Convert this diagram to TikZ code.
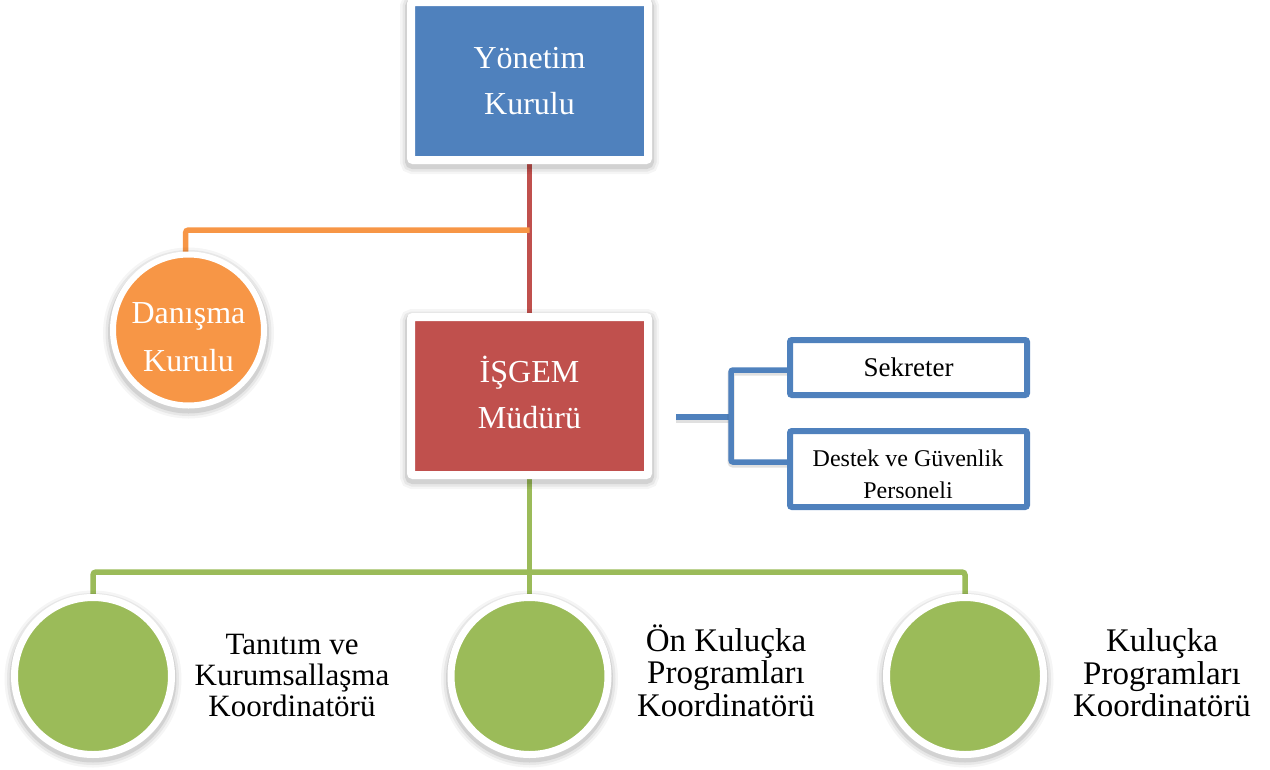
\documentclass[tikz,border=0pt]{standalone}
\usepackage{fontspec}
\setmainfont{Liberation Serif}
\usetikzlibrary{calc}
\pgfdeclarelayer{bg}
\pgfsetlayers{bg,main}
\definecolor{cblue}{HTML}{4F81BD}
\definecolor{cred}{HTML}{C0504D}
\definecolor{corange}{HTML}{F79646}
\definecolor{cgreen}{HTML}{9BBB59}
\begin{document}
\begin{tikzpicture}[x=1pt,y=-1pt,
  shdbox/.style={
    preaction={draw=black,draw opacity=.04,line width=22pt,transform canvas={yshift=-3pt}},
    preaction={draw=black,draw opacity=.06,line width=17pt,transform canvas={yshift=-3pt}},
    preaction={draw=black,draw opacity=.09,line width=12pt,transform canvas={yshift=-3pt}}},
  shdcirc/.style={
    preaction={draw=black,draw opacity=.04,line width=20pt,transform canvas={yshift=-3pt}},
    preaction={draw=black,draw opacity=.06,line width=15pt,transform canvas={yshift=-3pt}},
    preaction={draw=black,draw opacity=.09,line width=10pt,transform canvas={yshift=-3pt}}},
  framebox/.style={shdbox, rectangle, draw=white, line width=8pt, rounded corners=2pt,
                   minimum width=237pt, minimum height=158pt, inner sep=0pt, outer sep=0pt,
                   text=white, align=center, font=\fontsize{32}{46}\selectfont},
  ring/.style={shdcirc, circle, draw=white, inner sep=0pt, outer sep=0pt},
  side/.style={text=black, align=center, inner sep=0pt},
  inner/.style={text=white, align=center, inner sep=0pt},
  smallbox/.style={rectangle, draw=cblue, line width=6pt, rounded corners=2pt,
                   minimum width=237pt, inner sep=0pt, outer sep=0pt},
  conn/.style={line width=5.5pt},
  bconn/.style={conn, cblue, preaction={draw=black,draw opacity=.12,line width=7pt,transform canvas={yshift=-2pt}}},
]
\useasboundingbox (0,0) rectangle (1270,769);

% main boxes
\node[framebox, fill=cblue] (yk) at (529.5,81) {Yönetim\\Kurulu};
\node[framebox, fill=cred] (isgem) at (529.5,396) {};
\node[inner, font=\fontsize{32}{46}\selectfont] (isgemt) at (529.5,392) {İŞGEM\\Müdürü};

% advisory circle
\node[ring, fill=corange, line width=6pt, minimum size=151pt] (dk) at (188.5,330) {};
\node[inner, font=\fontsize{32}{48}\selectfont] (dkt) at (188.5,337) {Danışma\\Kurulu};

% side boxes
\node[smallbox, minimum height=55pt, font=\fontsize{27}{32}\selectfont] (sek) at (908.5,367.5) {Sekreter};
\node[smallbox, minimum height=76pt] (des) at (908.5,469) {};
\begin{scope}
  \clip (790,434) rectangle (1027,497);
  \node[side, font=\fontsize{24}{32}\selectfont] (dest) at (908,474.75) {Destek ve Güvenlik\\Personeli};
\end{scope}

% coordinator circles
\node[ring, fill=cgreen, line width=7pt, minimum size=157pt] (g1) at (93,676) {};
\node[ring, fill=cgreen, line width=7pt, minimum size=157pt] (g2) at (529.5,676) {};
\node[ring, fill=cgreen, line width=7pt, minimum size=157pt] (g3) at (965,676) {};

\node[side, font=\fontsize{31}{31}\selectfont] (t1) at (292,675) {Tanıtım ve\\Kurumsallaşma\\Koordinatörü};
\node[side, font=\fontsize{33}{32.5}\selectfont] (t2) at (726,670.5) {Ön Kuluçka\\Programları\\Koordinatörü};
\node[side, font=\fontsize{33}{32.5}\selectfont] (t3) at (1162,673) {Kuluçka\\Programları\\Koordinatörü};

% connectors
\coordinate (oj) at (529.5,230);
\coordinate (gj) at (529.5,572);
\coordinate (b0) at (676,417);
\coordinate (bj) at (731,417);
\begin{pgfonlayer}{bg}
  \draw[conn, cred] (yk.south) -- (isgem.north);
  \draw[conn, corange, rounded corners=3pt] (oj) -| ([xshift=-3pt]dk.north);
  \draw[conn, cgreen] (isgem.south) -- (g2.north);
  \draw[conn, cgreen, rounded corners=3pt] (gj) -| (g1.north);
  \draw[conn, cgreen, rounded corners=3pt] (gj) -| (g3.north);
  \draw[bconn] (b0) -- (bj);
  \draw[bconn, rounded corners=2pt] (sek.west |- 0,370) -| (bj) |- (des.west |- 0,462);
\end{pgfonlayer}
\end{tikzpicture}
\end{document}
